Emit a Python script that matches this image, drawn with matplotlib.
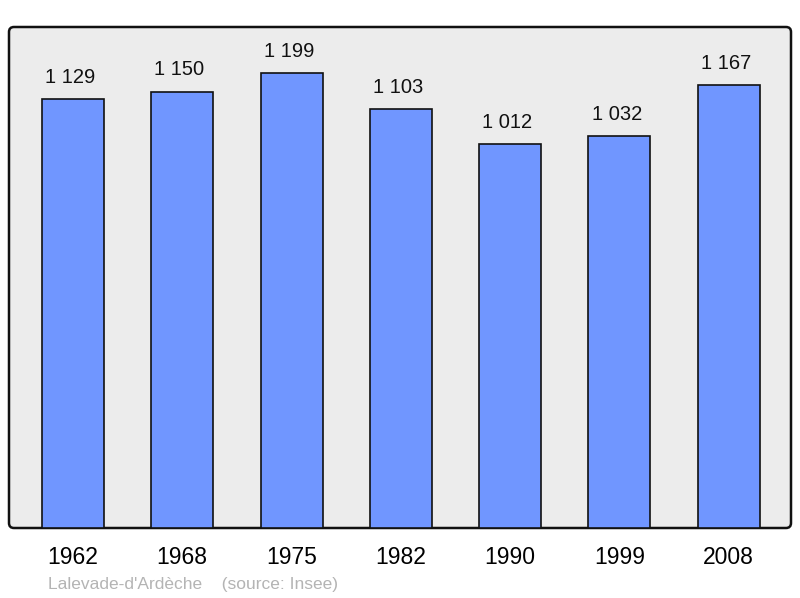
import matplotlib
matplotlib.use("Agg")
import matplotlib.pyplot as plt
from matplotlib.patches import FancyBboxPatch

years = ["1962", "1968", "1975", "1982", "1990", "1999", "2008"]
population = [1129, 1150, 1199, 1103, 1012, 1032, 1167]
value_labels = ["1 129", "1 150", "1 199", "1 103", "1 012", "1 032", "1 167"]

plt.rcParams['font.family'] = ['Liberation Sans', 'DejaVu Sans']

W, H = 800, 598
fig = plt.figure(figsize=(W / 100, H / 100), dpi=100)
ax = fig.add_axes([9 / W, (H - 528) / H, 782 / W, 501 / H])
ax.set_facecolor('none')

# rounded background/frame
bg = FancyBboxPatch((9 / 100, (H - 528) / 100), 782 / 100, 501 / 100,
                    boxstyle="round,pad=0,rounding_size=0.05",
                    transform=fig.dpi_scale_trans, facecolor='#ececec',
                    edgecolor='#111111', linewidth=1.8, zorder=0, clip_on=False)
ax.add_patch(bg)

x = list(range(len(years)))
ax.bar(x, population, width=0.567, color='#7096ff', edgecolor='#111111',
       linewidth=1.2, zorder=2)
for xi, v, lab in zip(x, population, value_labels):
    ax.annotate(lab, (xi, v), xytext=(-2, 15.5), textcoords='offset points',
                ha='center', va='center', fontsize=14.5, color='#111111')

ax.set_xlim(-0.585, 6.57)
ax.set_ylim(0, 1320)
ax.set_xticks(x)
ax.set_xticklabels(years, fontsize=16.5)
ax.tick_params(axis='x', length=0, pad=13)
ax.set_yticks([])
for s in ax.spines.values():
    s.set_visible(False)

fig.text(48 / W, 1 - 584 / H, "Lalevade-d'Ardèche    (source: Insee)",
         fontsize=12.5, color='#b4b4b4', ha='left', va='center')

fig.savefig("out.png", dpi=100)
